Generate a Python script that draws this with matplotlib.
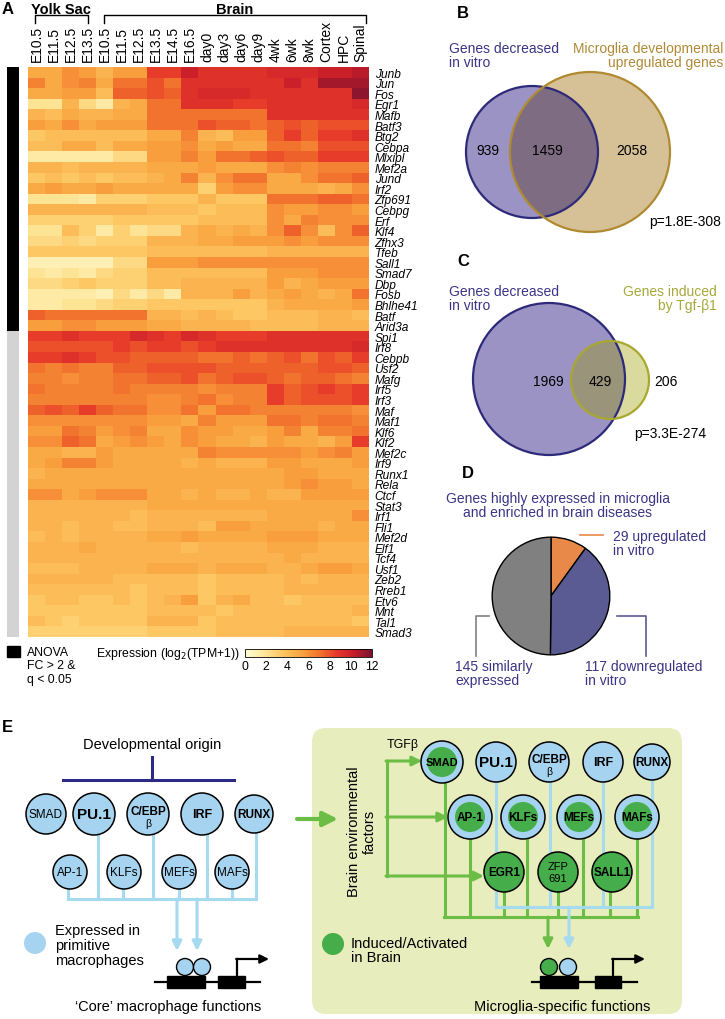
import numpy as np
import matplotlib
matplotlib.use("Agg")
import matplotlib.pyplot as plt
from matplotlib.colors import LinearSegmentedColormap, ListedColormap
from matplotlib.patches import Circle, FancyBboxPatch, Rectangle

plt.rcParams['font.family'] = ['Liberation Sans', 'DejaVu Sans']

# ---------------- data ----------------
samples = ["E10.5", "E11.5", "E12.5", "E13.5", "E10.5", "E11.5", "E12.5", "E13.5", "E14.5",
           "E16.5", "day0", "day3", "day6", "day9", "4wk", "6wk", "8wk", "Cortex", "HPC", "Spinal"]
genes = ["Junb", "Jun", "Fos", "Egr1", "Mafb", "Batf3", "Btg2", "Cebpa", "Mlxipl", "Mef2a", "Jund",
         "Irf2", "Zfp691", "Cebpg", "Erf", "Klf4", "Zfhx3", "Tfeb", "Sall1", "Smad7", "Dbp", "Fosb",
         "Bhlhe41", "Batf", "Arid3a", "Spi1", "Irf8", "Cebpb", "Usf2", "Mafg", "Irf5", "Irf3", "Maf",
         "Maf1", "Klf6", "Klf2", "Mef2c", "Irf9", "Runx1", "Rela", "Ctcf", "Stat3", "Irf1", "Fli1",
         "Mef2d", "Elf1", "Tcf4", "Usf1", "Zeb2", "Rreb1", "Etv6", "Mnt", "Tal1", "Smad3"]
anova_group = [0] * 25 + [1] * 29   # 0 = ANOVA FC>2 & q<0.05 (black), 1 = other (grey)

expr = [
    [5, 5, 6, 5.5, 4.5, 5.5, 5.5, 8.5, 8.5, 10, 9, 9, 9, 9, 9.5, 9.5, 9.5, 10, 10, 10.5],
    [6.5, 5, 6, 6.5, 5, 7, 7, 8, 7, 9, 9, 9, 9, 9, 9, 10, 9, 11, 11, 11],
    [5, 5, 5.5, 5.5, 4, 7.5, 7.5, 8, 7.5, 9, 9.5, 9.5, 9.5, 9, 9, 9, 9, 9, 9, 11.5],
    [2, 2, 4.5, 2.5, 1.5, 4.5, 5, 7, 7, 9, 9, 9, 8.5, 8.5, 9, 9, 9, 9, 9, 9.5],
    [4.5, 4, 5, 4.5, 4.5, 5, 5, 7, 7, 7, 7, 7, 7, 7, 9, 9, 9, 9, 9, 9],
    [5.5, 5, 6, 5, 5.5, 5.5, 5.5, 7, 7, 7, 8, 7.5, 7.5, 7, 7.5, 8, 7.5, 8, 8, 8],
    [3.5, 4, 4, 4, 4, 4, 4, 5, 5, 6.5, 4.5, 4, 5.5, 5.5, 7.5, 8.5, 7.5, 8.5, 8.5, 9],
    [4, 4, 5, 5, 4, 5, 5, 5.5, 5.5, 6, 5, 5.5, 5, 5, 7, 7, 6.5, 8, 8, 8],
    [1.5, 1.5, 1.5, 1.5, 1.5, 2.5, 2.5, 5.5, 5.5, 6.5, 5.5, 7, 7, 7.5, 8, 7.5, 7.5, 8.5, 8.5, 8.5],
    [4.5, 4.5, 4, 4.5, 4.5, 4.5, 4.5, 5, 5, 5, 5.5, 5, 5, 5, 6, 6.5, 6, 6.5, 6.5, 6.5],
    [3.5, 4, 3.5, 4, 3.5, 4, 4, 4.5, 5, 6.5, 4.5, 6, 7, 7, 5, 5, 6, 7, 7, 7.5],
    [5, 5.5, 5, 5, 5.5, 5, 5, 5, 5, 5, 3, 5.5, 6, 6, 5, 5, 5, 4.5, 5, 6],
    [2, 2, 2, 1.5, 3, 3, 3, 3.5, 3.5, 3.5, 4.5, 3.5, 3.5, 3.5, 7, 7, 7, 7.5, 7.5, 7],
    [4.5, 4.5, 4.5, 4.5, 4.5, 4.5, 4.5, 4, 4, 4, 3.5, 4, 4, 4, 6, 5.5, 5.5, 6, 6, 5.5],
    [3, 3, 3, 3, 3, 3.5, 3.5, 3.5, 3.5, 3.5, 4, 4, 4, 4, 6, 5, 6.5, 6, 6, 6],
    [2, 2, 4, 3, 1.5, 3, 2, 2.5, 2.5, 4.5, 5, 4.5, 5, 4.5, 6, 7.5, 6, 4, 6, 7.5],
    [2.5, 2.5, 3, 2.5, 3, 3, 3, 4.5, 4.5, 4.5, 5, 5, 5.5, 5.5, 5.5, 6, 5.5, 6, 6, 6],
    [3.5, 3.5, 3.5, 3.5, 3.5, 3.5, 3.5, 4, 4, 4, 4, 4, 4, 4, 4.5, 4.5, 4.5, 4.5, 4.5, 4.5],
    [1, 1, 1, 1, 1, 2.5, 2.5, 5.5, 5.5, 5.5, 6, 6, 6, 6, 6, 6, 6, 6, 6, 6],
    [2, 1.5, 2, 1.5, 2.5, 3, 3, 4, 4, 4, 4, 4, 4, 4, 5.5, 5.5, 5.5, 6, 6, 6],
    [2.5, 2.5, 3, 3.5, 3, 3, 3, 4, 4, 4.5, 4.5, 4.5, 4.5, 4.5, 5.5, 4.5, 5, 5.5, 5.5, 5.5],
    [1.5, 1.5, 1.5, 1.5, 1, 2.5, 1.5, 2.5, 1.5, 4.5, 4.5, 4.5, 5.5, 4.5, 5, 5.5, 5, 4.5, 5, 7],
    [1.5, 1.5, 2, 2, 2.5, 3, 3, 3.5, 3.5, 3.5, 3.5, 3.5, 3.5, 3.5, 4.5, 5, 5, 5, 5, 5.5],
    [7.5, 7, 7, 7, 7, 7, 7, 4.5, 4.5, 4, 4.5, 4, 3.5, 3.5, 4, 4, 4, 4.5, 4.5, 4],
    [5.5, 5.5, 6, 6, 5.5, 5.5, 5.5, 5, 5, 4.5, 4.5, 4.5, 4.5, 4, 4, 4, 4, 4.5, 4.5, 4.5],
    [8.5, 8.5, 9, 8.5, 8.5, 8.5, 9.5, 9, 8.5, 9.5, 9, 8.5, 8.5, 8.5, 9, 9, 9, 9, 9, 9],
    [8, 8, 8, 8, 8, 8.5, 8, 8.5, 8.5, 8, 8.5, 9, 9, 9, 9, 9, 9, 9, 9, 9.5],
    [8.5, 8.5, 9, 8.5, 8, 8, 7.5, 7.5, 7.5, 7.5, 7, 7, 7.5, 7, 7.5, 8, 7, 8, 7.5, 8.5],
    [7, 6.5, 7, 6.5, 6.5, 7.5, 7.5, 8, 8, 8, 8, 7.5, 7.5, 7.5, 7.5, 7.5, 7.5, 8, 8, 7.5],
    [6.5, 6.5, 6, 6.5, 6.5, 7, 7, 7.5, 7.5, 8, 7, 7.5, 8, 8, 7.5, 7, 7.5, 7.5, 7, 6.5],
    [7, 6.5, 6.5, 6.5, 6.5, 7, 6.5, 6.5, 6.5, 6.5, 6, 6.5, 6.5, 6.5, 8.5, 7.5, 8, 8.5, 8, 8.5],
    [6.5, 6.5, 6.5, 6.5, 6.5, 6.5, 6.5, 6, 6, 6.5, 7, 6, 6.5, 6.5, 8.5, 7.5, 8, 8, 8, 8.5],
    [7.5, 8, 7.5, 8.5, 7.5, 7, 7, 6, 6, 7, 5.5, 7, 7, 6.5, 6.5, 6.5, 6.5, 6.5, 6.5, 6],
    [6, 6, 6, 6, 6, 6, 6, 5.5, 5.5, 5, 6.5, 5.5, 5.5, 5.5, 7, 7, 6.5, 7, 7, 6.5],
    [5.5, 5.5, 7, 6.5, 5.5, 6, 6.5, 5, 5, 6, 5.5, 5.5, 5, 5, 5.5, 6.5, 5, 6.5, 6.5, 7],
    [6, 6, 7.5, 7, 5, 5.5, 6, 5.5, 5, 6, 5.5, 5, 5, 4.5, 5.5, 5, 5, 4.5, 5.5, 8.5],
    [5, 5, 4.5, 4.5, 5.5, 5, 5, 5, 5, 5, 6.5, 6, 6, 6, 6, 6, 5.5, 6, 6.5, 5.5],
    [5, 5.5, 6.5, 6.5, 5.5, 5, 5, 5, 5, 4.5, 5, 4.5, 4.5, 4.5, 5.5, 5.5, 5, 5, 5, 5.5],
    [4.5, 5, 5, 5, 5, 5, 5, 5, 5, 5, 5, 5, 5, 5, 5, 5.5, 5.5, 5, 5, 5],
    [5, 5, 5, 5, 5, 5, 5, 5, 5, 5, 5, 5, 5, 5, 5, 5.5, 6, 5.5, 5.5, 5],
    [6, 6, 5, 5.5, 6, 6, 6, 5, 5, 4.5, 5, 4.5, 4.5, 5, 4.5, 4.5, 5.5, 5.5, 5.5, 5.5],
    [4.5, 4.5, 4.5, 4.5, 4.5, 4.5, 4.5, 5, 5, 5, 5, 5, 5, 5, 5, 5, 5, 5, 5, 5],
    [4.5, 4.5, 4.5, 4.5, 4.5, 4.5, 4, 4.5, 4.5, 4.5, 4.5, 4.5, 4.5, 4.5, 5, 5, 5, 5, 5, 6],
    [4.5, 4.5, 4, 4.5, 4.5, 4, 4, 4.5, 4.5, 4.5, 4, 5.5, 5.5, 5, 5, 5, 5, 4.5, 5, 5],
    [4, 4.5, 4, 4.5, 4.5, 4.5, 4.5, 5, 5, 5.5, 5, 5, 5, 5, 5.5, 5.5, 5.5, 5, 5, 5],
    [4.5, 4.5, 4.5, 5, 4.5, 4.5, 4.5, 4.5, 4.5, 4, 4.5, 4.5, 4.5, 4.5, 5, 5, 5, 4.5, 4.5, 4.5],
    [4.5, 4.5, 4.5, 4.5, 4.5, 4.5, 4.5, 4.5, 4.5, 4.5, 4.5, 4.5, 4.5, 4.5, 4.5, 5, 4.5, 4.5, 4.5, 4.5],
    [4, 4, 4, 4.5, 4.5, 4.5, 4.5, 5, 5, 5, 4.5, 5, 5, 5, 4.5, 4.5, 5, 5.5, 5.5, 5],
    [4.5, 4.5, 4.5, 4.5, 4.5, 4, 4, 4, 4, 4, 3.5, 4, 4, 4, 4, 4.5, 4, 4.5, 4.5, 4.5],
    [4, 4, 4, 4, 4, 4, 3.5, 4, 4, 4, 3.5, 4, 4, 4, 4, 4.5, 4.5, 4.5, 4.5, 4.5],
    [3.5, 4, 4, 3.5, 3.5, 4, 3.5, 4, 4.5, 5.5, 3.5, 4.5, 5, 4, 4, 3.5, 4, 4, 4, 4],
    [3.5, 3.5, 3.5, 3.5, 3.5, 3.5, 3.5, 4, 4, 4, 4, 3.5, 4, 4, 4, 4, 4, 4, 4, 4.5],
    [4, 3.5, 3, 3.5, 3.5, 3.5, 3.5, 4.5, 4.5, 4.5, 3.5, 4, 4, 4, 4, 4, 4, 4, 4, 3.5],
    [3, 3, 3, 3, 3, 3, 3, 3.5, 3.5, 3.5, 3.5, 4, 4, 4, 4, 4.5, 4.5, 4.5, 4.5, 4.5],
]
cbar_ticks = [0, 2, 4, 6, 8, 10, 12]

venn_b_counts = [939, 1459, 2058]
venn_b_p = "p=1.8E-308"
venn_c_counts = [1969, 429, 206]
venn_c_p = "p=3.3E-274"
pie_labels = ["29 upregulated\nin vitro", "117 downregulated\nin vitro", "145 similarly\nexpressed"]
pie_counts = [29, 117, 145]

# ---------------- figure ----------------
W, H = 725, 1020
fig = plt.figure(figsize=(W / 100, H / 100), dpi=100)
ax = fig.add_axes([0, 0, 1, 1])
ax.set_xlim(0, W)
ax.set_ylim(H, 0)
ax.axis('off')

def fbox(x0, y0, x1, y1):
    return [x0 / W, 1 - y1 / H, (x1 - x0) / W, (y1 - y0) / H]

PURPLE = '#3B3486'
GOLD = '#B08A37'
OLIVE = '#A6A839'

# ---------------- Panel A ----------------
cmap = LinearSegmentedColormap.from_list('expr', [
    (0.0, '#FFFCD8'), (0.15, '#FEE79A'), (0.3, '#FDC560'), (0.45, '#F9A23E'),
    (0.6, '#F26E2C'), (0.72, '#E6382A'), (0.85, '#C81E2A'), (1.0, '#7A1230')])

hx0, hx1, hy0, hy1 = 28, 369, 68, 638
axh = fig.add_axes(fbox(hx0, hy0, hx1, hy1))
axh.imshow(np.array(expr), cmap=cmap, vmin=0, vmax=12, aspect='auto', interpolation='nearest')
axh.set_xticks(range(len(samples)))
axh.set_xticklabels(samples, rotation=90, fontsize=10)
axh.xaxis.tick_top()
axh.set_yticks(range(len(genes)))
axh.set_yticklabels(genes, fontsize=8.6, style='italic')
axh.yaxis.tick_right()
axh.tick_params(length=0, pad=4)
for s in axh.spines.values():
    s.set_visible(False)

axs = fig.add_axes(fbox(7, hy0, 19, hy1))
axs.imshow(np.array(anova_group)[:, None], cmap=ListedColormap(['#000000', '#D3D3D3']),
           aspect='auto', interpolation='nearest', vmin=0, vmax=1)
axs.axis('off')

ax.text(2, 10, 'A', fontsize=12, fontweight='bold', va='center')
ax.text(61, 10, 'Yolk Sac', fontsize=10.5, fontweight='bold', ha='center', va='center')
ax.text(235, 10, 'Brain', fontsize=10.5, fontweight='bold', ha='center', va='center')
ax.plot([35, 35, 88, 88], [24, 16, 16, 24], color='black', lw=1)
ax.plot([104, 104, 366, 366], [24, 16, 16, 24], color='black', lw=1)

# legend + colorbar
ax.add_patch(Rectangle((7, 647), 13, 11, color='black'))
ax.text(27, 647, 'ANOVA\nFC > 2 &\nq < 0.05', fontsize=8.8, va='top', ha='left', linespacing=1.15)
ax.text(240, 654, 'Expression (log$_2$(TPM+1))', fontsize=8.8, ha='right', va='center')
axc = fig.add_axes(fbox(245, 650, 372, 658))
sm = plt.cm.ScalarMappable(cmap=cmap, norm=plt.Normalize(0, 12))
cb = fig.colorbar(sm, cax=axc, orientation='horizontal', ticks=cbar_ticks)
cb.ax.tick_params(labelsize=8.8, length=0, pad=2)
cb.outline.set_linewidth(0.6)

# ---------------- Panel B ----------------
ax.text(457, 13, 'B', fontsize=12, fontweight='bold', va='center')
ax.text(449, 42, 'Genes decreased\nin vitro', color=PURPLE, fontsize=10, va='top', linespacing=1.0)
ax.text(723, 42, 'Microglia developmental\nupregulated genes', color=GOLD, fontsize=10,
        va='top', ha='right', multialignment='right', linespacing=1.0)
cb_blue = Circle((532, 153), 66, fc='#9A93C4', ec='none')
cb_gold = Circle((590, 153), 80, fc='#D6C095', ec='none')
ax.add_patch(cb_blue)
ax.add_patch(cb_gold)
ov = Circle((590, 153), 80, fc='#7D6C82', ec='none')
ax.add_patch(ov)
ov.set_clip_path(cb_blue)
ax.add_patch(Circle((532, 153), 66, fc='none', ec='#2E2A7A', lw=1.6))
ax.add_patch(Circle((590, 153), 80, fc='none', ec='#B08A30', lw=1.6))
for xx, v in zip([488, 547, 632], venn_b_counts):
    ax.text(xx, 151, str(v), fontsize=10, ha='center', va='center')
ax.text(685, 222, venn_b_p, fontsize=10, ha='center', va='center')

# ---------------- Panel C ----------------
ax.text(457, 262, 'C', fontsize=12, fontweight='bold', va='center')
ax.text(449, 285, 'Genes decreased\nin vitro', color=PURPLE, fontsize=10, va='top', linespacing=1.0)
ax.text(717, 285, 'Genes induced\nby Tgf-β1', color=OLIVE, fontsize=10, va='top', ha='right',
        multialignment='right', linespacing=1.0)
cc_blue = Circle((549, 380), 76, fc='#9A93C4', ec='none')
cc_ol = Circle((610, 381), 39, fc='#DADA9E', ec='none')
ax.add_patch(cc_blue)
ax.add_patch(cc_ol)
ov2 = Circle((610, 381), 39, fc='#99947A', ec='none')
ax.add_patch(ov2)
ov2.set_clip_path(cc_blue)
ax.add_patch(Circle((549, 380), 76, fc='none', ec='#2E2A7A', lw=1.6))
ax.add_patch(Circle((610, 381), 39, fc='none', ec='#A8A830', lw=1.6))
for xx, v in zip([548, 600, 666], venn_c_counts):
    ax.text(xx, 382, str(v), fontsize=10, ha='center', va='center')
ax.text(670, 434, venn_c_p, fontsize=10, ha='center', va='center')

# ---------------- Panel D ----------------
ax.text(462, 474, 'D', fontsize=12, fontweight='bold', va='center')
ax.text(558, 506, 'Genes highly expressed in microglia\nand enriched in brain diseases',
        color=PURPLE, fontsize=10, ha='center', va='center', linespacing=1.0)
axp = fig.add_axes(fbox(491, 537, 611, 657))
axp.pie(pie_counts, colors=['#E8894A', '#5A5B92', '#808080'], startangle=90, counterclock=False,
        wedgeprops=dict(edgecolor='black', linewidth=1.0))
axp.set_xlim(-1.02, 1.02)
axp.set_ylim(-1.02, 1.02)
ax.plot([580, 603], [536, 536], color='#E8894A', lw=1.2)
ax.text(613, 544, pie_labels[0], color=PURPLE, fontsize=10, va='center', linespacing=1.0)
ax.plot([617, 646, 646], [617, 617, 657], color='#5A5B92', lw=1.2)
ax.text(585, 674, pie_labels[1], color=PURPLE, fontsize=10, va='center', linespacing=1.0)
ax.plot([489, 476, 476], [617, 617, 657], color='#808080', lw=1.2)
ax.text(455, 674, pie_labels[2], color=PURPLE, fontsize=10, va='center', linespacing=1.0)

# ---------------- Panel E ----------------
LB = '#A6D4F0'
LBL = '#A5DAF0'
GR = '#45AE4A'
GRL = '#6CBD45'
NAVY = '#2D2A86'

def arrow(x0, y0, x1, y1, color, lw=2.2, ms=14):
    ax.annotate('', xy=(x1, y1), xytext=(x0, y0),
                arrowprops=dict(arrowstyle='-|>', color=color, lw=lw, mutation_scale=ms,
                                shrinkA=0, shrinkB=0), zorder=2)

def node(x, y, r, label, outer=LB, inner=None, r_in=None, fs=8.5, bold=False, sub=None):
    ax.add_patch(Circle((x, y), r, fc=outer, ec='black', lw=1.1, zorder=3))
    if inner is not None:
        ax.add_patch(Circle((x, y), r_in, fc=inner, ec='none', zorder=3.5))
    dy = -3 if sub else 0
    ax.text(x, y + dy, label, fontsize=fs, fontweight='bold' if bold else 'normal',
            ha='center', va='center', zorder=4)
    if sub:
        ax.text(x, y + 9, sub, fontsize=7.5, ha='center', va='center', zorder=4)

ax.text(2, 728, 'E', fontsize=12, fontweight='bold', va='center')
ax.text(152, 745, 'Developmental origin', fontsize=10.5, ha='center', va='center')
ax.plot([152, 152], [758, 781], color=NAVY, lw=2.2)
ax.plot([63, 234], [781, 781], color=NAVY, lw=2.2)

# left network lines
yb = 900
for xx, yy in [(68, 873), (98, 815), (123, 873), (153, 815), (179, 873), (207, 815), (232, 873), (256, 815)]:
    ax.plot([xx, xx], [yy, yb], color=LBL, lw=2.2, zorder=1)
ax.plot([68, 257], [yb, yb], color=LBL, lw=2.2, zorder=1, solid_capstyle='butt')
arrow(177, yb, 177, 952, LBL)
arrow(197, yb, 197, 952, LBL)

node(46, 815, 20, 'SMAD', fs=8.5)
node(94, 815, 21, 'PU.1', fs=11, bold=True)
node(148, 815, 21, 'C/EBP', fs=8.5, bold=True, sub='β')
node(202, 815, 21, 'IRF', fs=9, bold=True)
node(254, 815, 19, 'RUNX', fs=8.5, bold=True)
node(70, 873, 17, 'AP-1', fs=8.5)
node(124, 873, 17, 'KLFs', fs=8.5)
node(179, 873, 17, 'MEFs', fs=8.5)
node(232, 873, 17, 'MAFs', fs=8.5)

ax.add_patch(Circle((35, 944), 11, fc=LB, ec='none'))
ax.text(55, 946, 'Expressed in\nprimitive\nmacrophages', fontsize=10.5, va='center', linespacing=1.05)

def promoter(x_line0, x_line1, boxes, circles, arrow_x, text, text_x):
    ax.plot([x_line0, x_line1], [983, 983], color='black', lw=1.6, zorder=2)
    for bx0, bx1 in boxes:
        ax.add_patch(Rectangle((bx0, 977), bx1 - bx0, 12, color='black', zorder=3))
    for cx, col in circles:
        ax.add_patch(Circle((cx, 968), 8.5, fc=col, ec='black', lw=1.0, zorder=4))
    ax.plot([arrow_x, arrow_x], [977, 960], color='black', lw=1.6, zorder=3)
    ax.annotate('', xy=(arrow_x + 32, 960), xytext=(arrow_x - 0.8, 960),
                arrowprops=dict(arrowstyle='-|>', color='black', lw=1.6, mutation_scale=13,
                                shrinkA=0, shrinkB=0), zorder=3)
    ax.text(text_x, 1007, text, fontsize=10.5, ha='center', va='center')

promoter(155, 260, [(167, 205), (218, 245)], [(185, LB), (202, LB)], 237,
         "\u2018Core\u2019 macrophage functions", 168)

# big green arrow
arrow(297, 820, 338, 820, GRL, lw=3, ms=22)

# right box
ax.add_patch(FancyBboxPatch((312, 729), 370, 286, boxstyle='round,pad=0,rounding_size=14',
                            fc='#E7EDBC', ec='none', zorder=0))
ax.text(362, 832, 'Brain environmental\nfactors', rotation=90, fontsize=10.5, ha='center',
        va='center', linespacing=1.1)
ax.text(387, 745, 'TGFβ', fontsize=9, ha='left', va='center')

# green feed lines
ax.plot([387, 387], [762, 877], color=GRL, lw=2.2, zorder=1)
arrow(386, 762, 422, 762, GRL)
arrow(386, 818, 448, 818, GRL)
arrow(386, 877, 484, 877, GRL)

# right network lines
for xx, yy in [(496, 763), (550, 763), (603, 763), (652, 763)]:
    ax.plot([xx, xx], [yy, 908], color=LBL, lw=2.2, zorder=1.2)
ax.plot([496, 652], [908, 908], color=LBL, lw=2.2, zorder=1.2)
for xx, yy in [(445, 763), (470, 818), (504, 873), (527, 818), (558, 873), (583, 818), (610, 873), (637, 818)]:
    ax.plot([xx, xx], [yy, 918], color=GRL, lw=2.2, zorder=1.1)
ax.plot([444, 638], [918, 918], color=GRL, lw=2.2, zorder=1.1)
arrow(548, 918, 548, 950, GRL)
arrow(569, 908, 569, 950, LBL)

node(442, 763, 21, 'SMAD', inner=GR, r_in=15, fs=8, bold=True)
node(496, 763, 20, 'PU.1', fs=11, bold=True)
node(549, 763, 20, 'C/EBP', fs=8.5, bold=True, sub='β')
node(603, 763, 20, 'IRF', fs=9, bold=True)
node(652, 763, 18, 'RUNX', fs=8.5, bold=True)
node(470, 818, 22, 'AP-1', inner=GR, r_in=15, fs=8.5, bold=True)
node(523, 818, 22, 'KLFs', inner=GR, r_in=15, fs=8.5, bold=True)
node(579, 818, 22, 'MEFs', inner=GR, r_in=15, fs=8.5, bold=True)
node(637, 818, 22, 'MAFs', inner=GR, r_in=15, fs=8.5, bold=True)
node(504, 873, 20, 'EGR1', outer=GR, fs=8.5, bold=True)
node(558, 873, 20, 'ZFP\n691', outer=GR, fs=8)
node(612, 873, 20, 'SALL1', outer=GR, fs=8.5, bold=True)

ax.add_patch(Circle((333, 945), 11, fc=GR, ec='none'))
ax.text(351, 951, 'Induced/Activated\nin Brain', fontsize=10.5, va='center', linespacing=1.05)

promoter(532, 637, [(540, 578), (595, 621)], [(549, GR), (568, LB)], 613,
         'Microglia-specific functions', 562)

fig.savefig('out.png', dpi=100)
